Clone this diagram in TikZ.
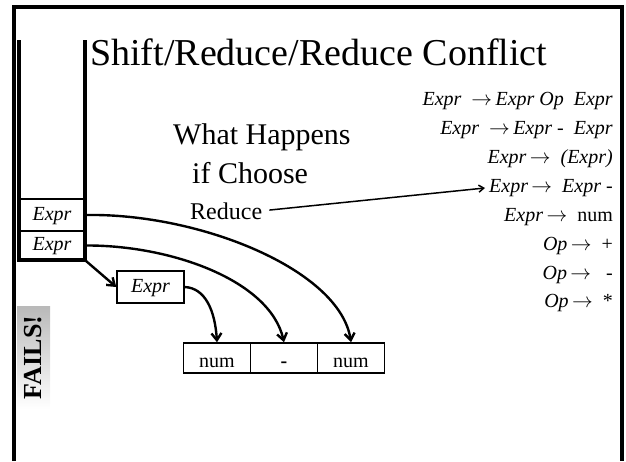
\documentclass[tikz,border=0pt]{standalone}
\usepackage{fontspec}
\setmainfont{LiberationSerif-Regular.ttf}[
  BoldFont=LiberationSerif-Bold.ttf,
  ItalicFont=LiberationSerif-Italic.ttf,
  BoldItalicFont=LiberationSerif-BoldItalic.ttf]
\usetikzlibrary{arrows.meta}

\begin{document}
\begin{tikzpicture}[x=1pt,y=-1pt,
  framewall/.style={line width=4pt},
  stackwall/.style={line width=3.6pt},
  cell/.style={draw, line width=1.5pt, minimum width=66pt, inner sep=0pt,
    text height=14pt, text depth=4pt,
    font=\fontsize{20}{24}\selectfont\itshape},
  tok/.style={draw, line width=1.5pt, minimum width=67pt, minimum height=30pt,
    inner sep=0pt, text height=18pt, text depth=0pt,
    font=\fontsize{20}{24}\selectfont},
  link/.style={line width=2.4pt, -{Straight Barb[length=7pt,width=10pt]}},
  pointer/.style={line width=1.5pt, -{Straight Barb[length=5pt,width=7pt]}},
  rule/.style={anchor=base east, inner sep=0pt, font=\fontsize{20}{24}\selectfont},
]
\useasboundingbox (0,0) rectangle (626,461);

% slide frame, open at the bottom
\draw[framewall] (14,461) -- (14,6.5) -- (621.5,6.5) -- (621.5,461);

% title
\node[anchor=base west, inner sep=0pt, font=\fontsize{38}{44}\selectfont]
  (title) at (90,65) {Shift/Reduce/Reduce Conflict};

% question
\node[anchor=base west, inner sep=0pt, font=\fontsize{30}{36}\selectfont]
  (q1) at (173,144) {What Happens};
\node[anchor=base west, inner sep=0pt, font=\fontsize{30}{36}\selectfont]
  (q2) at (192,183) {if Choose};
\node[anchor=base west, inner sep=0pt, font=\fontsize{24}{28}\selectfont]
  (reduce) at (190,219) {Reduce};

% grammar
\node[rule] (r1) at (613,105) {\textit{Expr}\ \ $\rightarrow$\,\textit{Expr Op}\ \ \textit{Expr}};
\node[rule] (r2) at (613,134) {\textit{Expr}\ \ $\rightarrow$\,\textit{Expr} -\ \ \textit{Expr}};
\node[rule] (r3) at (613,163) {\textit{Expr}\,$\rightarrow$\ \ \textit{(Expr)}};
\node[rule] (r4) at (613,192) {\textit{Expr}\,$\rightarrow$\ \ \textit{Expr} -};
\node[rule] (r5) at (613,221) {\textit{Expr}\,$\rightarrow$\ \ num};
\node[rule] (r6) at (613,250) {\textit{Op}\,$\rightarrow$\ \ +};
\node[rule] (r7) at (613,279) {\textit{Op}\,$\rightarrow$\ \ \ -};
\node[rule] (r8) at (613,307) {\textit{Op}\,$\rightarrow$\ \ *};

\draw[pointer, shorten <=7pt, shorten >=4pt] (reduce.east) -- (r4.west);

% parse stack
\node[cell, minimum height=32pt] (cellA) at (52,215) {Expr};
\node[cell, minimum height=29pt] (cellB) at (52,245.5) {Expr};
\draw[stackwall] (19,40) -- (19,260) -- (85,260) -- (85,40);

% reduced subtree
\node[cell, minimum width=67pt, minimum height=32pt] (sub) at (150.5,287) {Expr};

% input tokens
\node[tok] (num1) at (217,358) {num};
\node[tok] (dash) at (284,358) {\textbf{-}};
\node[tok] (num2) at (351,358) {num};

% links from stack entries to tokens
\draw[link] (cellA.east) .. controls (200,213) and (340,270) .. (num2.north);
\draw[link] (cellB.east) .. controls (170,245) and (270,280) .. (dash.north);
\draw[link] (cellB.south east) -- (sub.west);
\draw[link] (sub.east) .. controls (205,288) and (215,310) .. (num1.north);

% verdict
\node[rotate=90, minimum width=103pt, minimum height=33pt, inner sep=0pt,
  top color=gray!55, bottom color=white,
  font=\fontsize{26}{30}\selectfont\bfseries] (fails) at (33.5,357.5) {FAILS!};
\end{tikzpicture}
\end{document}
